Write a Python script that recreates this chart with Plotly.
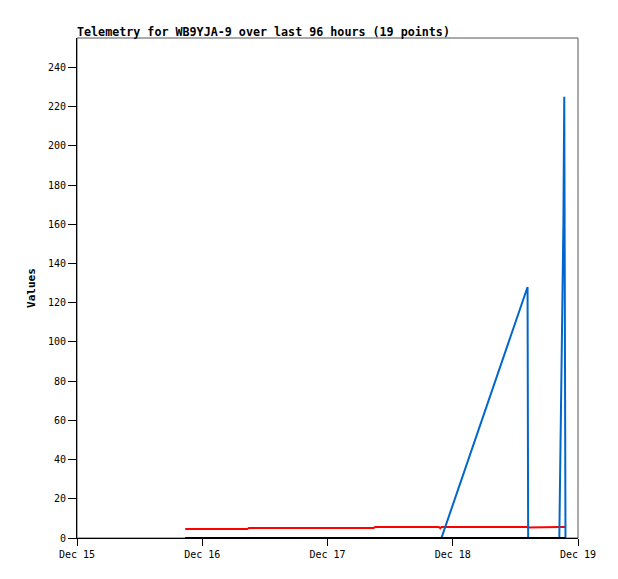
"""Telemetry chart for WB9YJA-9 (Plotly)."""

import plotly.graph_objects as go

TITLE = "Telemetry for WB9YJA-9 over last 96 hours (19 points)"

TIMES = [
    "2023-12-15 20:44", "2023-12-16 08:38", "2023-12-16 08:56",
    "2023-12-17 08:50", "2023-12-17 09:07", "2023-12-17 21:19",
    "2023-12-17 21:36", "2023-12-17 21:50", "2023-12-18 14:20",
    "2023-12-18 14:27", "2023-12-18 20:25", "2023-12-18 20:30",
    "2023-12-18 20:41", "2023-12-18 20:51", "2023-12-18 21:01",
    "2023-12-18 21:12", "2023-12-18 21:22", "2023-12-18 21:28",
    "2023-12-18 21:36",
]
BLUE_VALUES = [0, 0, 0, 0, 0, 0, 0, 0, 128, 0, 0, 16, 48, 80, 112, 160, 225, 0, 0]
RED_VALUES = [4.6, 4.6, 5.1, 5.1, 5.6, 5.6, 5.0, 5.6, 5.6, 5.3,
              5.6, 5.6, 5.6, 5.6, 5.6, 5.6, 5.6, 5.6, 5.6]
BLACK_VALUES = [0] * 19

X_RANGE = ["2023-12-15 00:00", "2023-12-19 00:00"]
Y_RANGE = [0, 255]

MONO = "DejaVu Sans Mono"

fig = go.Figure()
fig.add_trace(go.Scatter(x=TIMES, y=RED_VALUES, mode="lines",
                         line=dict(color="#ff0000", width=2)))
fig.add_trace(go.Scatter(x=TIMES, y=BLUE_VALUES, mode="lines",
                         line=dict(color="#0066cc", width=2)))
fig.add_trace(go.Scatter(x=TIMES, y=BLACK_VALUES, mode="lines",
                         line=dict(color="#000000", width=2)))

# grey frame on top/right, black axes on left/bottom
fig.add_shape(type="rect", xref="paper", yref="paper", x0=0, x1=1, y0=0, y1=1,
              line=dict(color="#555555", width=1), layer="below")

fig.update_layout(
    width=618,
    height=579,
    margin=dict(l=77, r=40, t=38, b=41),
    paper_bgcolor="white",
    plot_bgcolor="white",
    showlegend=False,
    font=dict(family=MONO, size=10, color="black"),
    title=dict(
        text="<b>" + TITLE + "</b>",
        font=dict(family=MONO, size=11.7, color="black"),
        x=0, xref="paper", xanchor="left",
        y=1, yref="paper", yanchor="bottom",
        pad=dict(b=2),
    ),
    xaxis=dict(
        type="date",
        range=X_RANGE,
        dtick=86400000,
        tickformat="%b %d",
        ticks="outside",
        ticklen=7,
        tickcolor="black",
        showgrid=False,
        zeroline=False,
        showline=True,
        linecolor="black",
        linewidth=1,
        automargin=False,
        tickfont=dict(family=MONO, size=10),
    ),
    yaxis=dict(
        range=Y_RANGE,
        dtick=20,
        ticks="outside",
        ticklen=8,
        tickcolor="black",
        showgrid=False,
        zeroline=False,
        showline=True,
        linecolor="black",
        linewidth=1,
        automargin=False,
        tickfont=dict(family=MONO, size=10),
        title=dict(text="<b>Values</b>", standoff=10,
                   font=dict(family=MONO, size=11)),
    ),
)

# drop the default page margin so the figure sits at the window origin
fig.write_html(
    "out.html",
    config={"displayModeBar": False},
    post_script="document.body.style.margin='0px';",
)
